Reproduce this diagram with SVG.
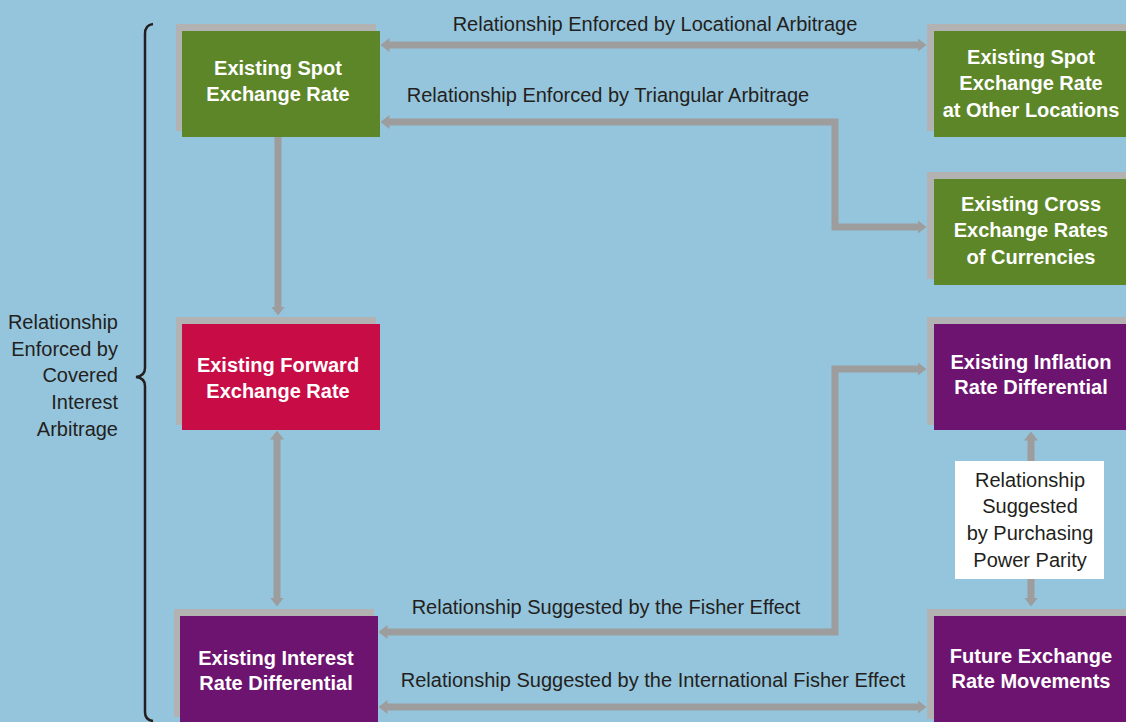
<svg xmlns="http://www.w3.org/2000/svg" width="1126" height="722" viewBox="0 0 1126 722">
<style>
.bg{fill:#95c5dc}
.sh{fill:#b2b2b2}
.green{fill:#5c8627}
.red{fill:#c80c46}
.purple{fill:#6d1470}
.nt{font-family:"Liberation Sans",Arial,sans-serif;font-weight:bold;font-size:20px;fill:#ffffff;text-anchor:middle}
.lb{font-family:"Liberation Sans",Arial,sans-serif;font-size:20px;fill:#231f20;text-anchor:middle}
.lbr{font-family:"Liberation Sans",Arial,sans-serif;font-size:20px;fill:#231f20;text-anchor:end}
.conn{fill:none;stroke:#9d9d9d;stroke-width:7;stroke-linejoin:miter}
</style>
<defs>
<marker id="ah" viewBox="0 0 9 14" refX="0.5" refY="7" markerWidth="9" markerHeight="14" markerUnits="userSpaceOnUse" orient="auto-start-reverse">
<path d="M0,0 L9,7 L0,14 Z" fill="#9d9d9d"/>
</marker>
</defs>
<rect class="bg" x="0" y="0" width="1126" height="722"/>

<g id="brace">
<path d="M153,24 Q145,25 145,34 V368 Q145,376 136,377 Q145,378 145,386 V712 Q145,720 153,721" fill="none" stroke="#231f20" stroke-width="2.5"/>
<text class="lbr" x="118" y="329">Relationship</text>
<text class="lbr" x="118" y="356">Enforced by</text>
<text class="lbr" x="118" y="382">Covered</text>
<text class="lbr" x="118" y="409">Interest</text>
<text class="lbr" x="118" y="436">Arbitrage</text>
</g>

<g id="connectors">
<path class="conn" d="M389,45 H918" marker-start="url(#ah)" marker-end="url(#ah)"/>
<path class="conn" d="M389,122 H835 V227 H918" marker-start="url(#ah)" marker-end="url(#ah)"/>
<path class="conn" d="M278,137 V307" marker-end="url(#ah)"/>
<path class="conn" d="M277,439 V598" marker-start="url(#ah)" marker-end="url(#ah)"/>
<path class="conn" d="M387,632 H835 V369 H918" marker-start="url(#ah)" marker-end="url(#ah)"/>
<path class="conn" d="M387,707 H918" marker-start="url(#ah)" marker-end="url(#ah)"/>
<path class="conn" d="M1031,440 V598" marker-start="url(#ah)" marker-end="url(#ah)"/>
<text class="lb" x="655" y="31">Relationship Enforced by Locational Arbitrage</text>
<text class="lb" x="608" y="102">Relationship Enforced by Triangular Arbitrage</text>
<text class="lb" x="606" y="614">Relationship Suggested by the Fisher Effect</text>
<text class="lb" x="653" y="687">Relationship Suggested by the International Fisher Effect</text>
<g id="ppp-label">
<rect x="955" y="461" width="149" height="118" fill="#ffffff"/>
<text class="lb" x="1030" y="487">Relationship</text>
<text class="lb" x="1030" y="513">Suggested</text>
<text class="lb" x="1030" y="540">by Purchasing</text>
<text class="lb" x="1030" y="567">Power Parity</text>
</g>
</g>

<g id="spot">
<rect class="sh" x="176" y="24" width="200" height="107"/>
<rect class="green" x="182" y="31" width="198" height="106"/>
<text class="nt" x="278" y="75">Existing Spot</text>
<text class="nt" x="278" y="101">Exchange Rate</text>
</g>

<g id="spot-other">
<rect class="sh" x="927" y="24" width="210" height="107"/>
<rect class="green" x="934" y="31" width="210" height="106"/>
<text class="nt" x="1031" y="64">Existing Spot</text>
<text class="nt" x="1031" y="90">Exchange Rate</text>
<text class="nt" x="1031" y="117">at Other Locations</text>
</g>

<g id="cross">
<rect class="sh" x="927" y="172" width="210" height="107"/>
<rect class="green" x="934" y="179" width="210" height="106"/>
<text class="nt" x="1031" y="211">Existing Cross</text>
<text class="nt" x="1031" y="237">Exchange Rates</text>
<text class="nt" x="1031" y="264">of Currencies</text>
</g>

<g id="forward">
<rect class="sh" x="176" y="317" width="200" height="108"/>
<rect class="red" x="182" y="324" width="198" height="106"/>
<text class="nt" x="278" y="372">Existing Forward</text>
<text class="nt" x="278" y="398">Exchange Rate</text>
</g>

<g id="interest">
<rect class="sh" x="174" y="609" width="200" height="108"/>
<rect class="purple" x="180" y="616" width="198" height="110"/>
<text class="nt" x="276" y="665">Existing Interest</text>
<text class="nt" x="276" y="690">Rate Differential</text>
</g>

<g id="inflation">
<rect class="sh" x="927" y="317" width="210" height="108"/>
<rect class="purple" x="934" y="324" width="210" height="106"/>
<text class="nt" x="1031" y="369">Existing Inflation</text>
<text class="nt" x="1031" y="394">Rate Differential</text>
</g>

<g id="future">
<rect class="sh" x="927" y="609" width="210" height="110"/>
<rect class="purple" x="934" y="616" width="210" height="110"/>
<text class="nt" x="1031" y="663">Future Exchange</text>
<text class="nt" x="1031" y="688">Rate Movements</text>
</g>
</svg>
